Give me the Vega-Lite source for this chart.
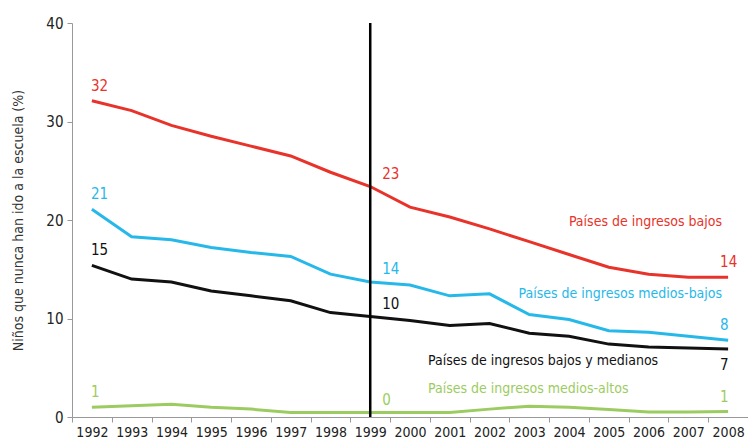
{
  "$schema": "https://vega.github.io/schema/vega-lite/v6.json",
  "width": 676,
  "height": 394,
  "autosize": {"type": "none"},
  "padding": {"left": 72, "top": 23, "right": 0, "bottom": 23},
  "background": "white",
  "config": {
    "view": {"stroke": null},
    "font": "DejaVu Sans Condensed",
    "text": {"font": "DejaVu Sans Condensed"},
    "axis": {"grid": false, "domainColor": "#999", "tickColor": "#999", "labelColor": "#222", "labelFont": "DejaVu Sans Condensed", "titleFont": "DejaVu Sans Condensed"}
  },
  "datasets": {
    "series": [
      {"year": 1992, "serie": "bajos", "value": 32.1},
      {"year": 1993, "serie": "bajos", "value": 31.1},
      {"year": 1994, "serie": "bajos", "value": 29.6},
      {"year": 1995, "serie": "bajos", "value": 28.5},
      {"year": 1996, "serie": "bajos", "value": 27.5},
      {"year": 1997, "serie": "bajos", "value": 26.5},
      {"year": 1998, "serie": "bajos", "value": 24.85},
      {"year": 1999, "serie": "bajos", "value": 23.4},
      {"year": 2000, "serie": "bajos", "value": 21.3},
      {"year": 2001, "serie": "bajos", "value": 20.3},
      {"year": 2002, "serie": "bajos", "value": 19.1},
      {"year": 2003, "serie": "bajos", "value": 17.8},
      {"year": 2004, "serie": "bajos", "value": 16.5},
      {"year": 2005, "serie": "bajos", "value": 15.2},
      {"year": 2006, "serie": "bajos", "value": 14.5},
      {"year": 2007, "serie": "bajos", "value": 14.2},
      {"year": 2008, "serie": "bajos", "value": 14.2},
      {"year": 1992, "serie": "medios-bajos", "value": 21.1},
      {"year": 1993, "serie": "medios-bajos", "value": 18.3},
      {"year": 1994, "serie": "medios-bajos", "value": 18.0},
      {"year": 1995, "serie": "medios-bajos", "value": 17.2},
      {"year": 1996, "serie": "medios-bajos", "value": 16.7},
      {"year": 1997, "serie": "medios-bajos", "value": 16.3},
      {"year": 1998, "serie": "medios-bajos", "value": 14.5},
      {"year": 1999, "serie": "medios-bajos", "value": 13.7},
      {"year": 2000, "serie": "medios-bajos", "value": 13.4},
      {"year": 2001, "serie": "medios-bajos", "value": 12.3},
      {"year": 2002, "serie": "medios-bajos", "value": 12.5},
      {"year": 2003, "serie": "medios-bajos", "value": 10.4},
      {"year": 2004, "serie": "medios-bajos", "value": 9.9},
      {"year": 2005, "serie": "medios-bajos", "value": 8.75},
      {"year": 2006, "serie": "medios-bajos", "value": 8.6},
      {"year": 2007, "serie": "medios-bajos", "value": 8.2},
      {"year": 2008, "serie": "medios-bajos", "value": 7.8},
      {"year": 1992, "serie": "bajos y medianos", "value": 15.4},
      {"year": 1993, "serie": "bajos y medianos", "value": 14.0},
      {"year": 1994, "serie": "bajos y medianos", "value": 13.7},
      {"year": 1995, "serie": "bajos y medianos", "value": 12.8},
      {"year": 1996, "serie": "bajos y medianos", "value": 12.3},
      {"year": 1997, "serie": "bajos y medianos", "value": 11.8},
      {"year": 1998, "serie": "bajos y medianos", "value": 10.6},
      {"year": 1999, "serie": "bajos y medianos", "value": 10.2},
      {"year": 2000, "serie": "bajos y medianos", "value": 9.8},
      {"year": 2001, "serie": "bajos y medianos", "value": 9.3},
      {"year": 2002, "serie": "bajos y medianos", "value": 9.5},
      {"year": 2003, "serie": "bajos y medianos", "value": 8.5},
      {"year": 2004, "serie": "bajos y medianos", "value": 8.2},
      {"year": 2005, "serie": "bajos y medianos", "value": 7.4},
      {"year": 2006, "serie": "bajos y medianos", "value": 7.1},
      {"year": 2007, "serie": "bajos y medianos", "value": 7.0},
      {"year": 2008, "serie": "bajos y medianos", "value": 6.9},
      {"year": 1992, "serie": "medios-altos", "value": 1.0},
      {"year": 1993, "serie": "medios-altos", "value": 1.15},
      {"year": 1994, "serie": "medios-altos", "value": 1.3},
      {"year": 1995, "serie": "medios-altos", "value": 1.0},
      {"year": 1996, "serie": "medios-altos", "value": 0.8},
      {"year": 1997, "serie": "medios-altos", "value": 0.45},
      {"year": 1998, "serie": "medios-altos", "value": 0.45},
      {"year": 1999, "serie": "medios-altos", "value": 0.45},
      {"year": 2000, "serie": "medios-altos", "value": 0.45},
      {"year": 2001, "serie": "medios-altos", "value": 0.45},
      {"year": 2002, "serie": "medios-altos", "value": 0.8},
      {"year": 2003, "serie": "medios-altos", "value": 1.1},
      {"year": 2004, "serie": "medios-altos", "value": 1.0},
      {"year": 2005, "serie": "medios-altos", "value": 0.75},
      {"year": 2006, "serie": "medios-altos", "value": 0.5},
      {"year": 2007, "serie": "medios-altos", "value": 0.5},
      {"year": 2008, "serie": "medios-altos", "value": 0.55}
    ],
    "names": [
      {"serie": "bajos", "name": "Países de ingresos bajos", "year": 2008, "value": 19.8, "side": "right"},
      {"serie": "medios-bajos", "name": "Países de ingresos medios-bajos", "year": 2008, "value": 12.5, "side": "right"},
      {"serie": "bajos y medianos", "name": "Países de ingresos bajos y medianos", "year": 2000, "value": 5.7, "side": "left"},
      {"serie": "medios-altos", "name": "Países de ingresos medios-altos", "year": 2000, "value": 2.8, "side": "left"}
    ],
    "divider": [{"year": 1999}]
  },
  "encoding": {
    "x": {
      "field": "year", "type": "ordinal", "bandPosition": 0.5,
      "scale": {"type": "band", "paddingInner": 0, "paddingOuter": 0, "domain": [1992,1993,1994,1995,1996,1997,1998,1999,2000,2001,2002,2003,2004,2005,2006,2007,2008]},
      "axis": {"title": null, "labelAngle": 0, "tickBand": "extent", "tickSize": 5, "labelPadding": 3, "labelFontSize": 14}
    },
    "y": {
      "field": "value", "type": "quantitative",
      "scale": {"domain": [0, 40], "nice": false},
      "axis": {"values": [0, 10, 20, 30, 40], "title": "Niños que nunca han ido a la escuela (%)", "titleFontSize": 14, "titleFontWeight": "normal", "titleColor": "#333", "titleX": -54, "titleY": 197, "titleAngle": 270, "titleBaseline": "middle", "titleAlign": "center", "tickSize": 5, "labelPadding": 4, "labelFontSize": 15}
    },
    "color": {
      "field": "serie", "type": "nominal", "legend": null,
      "scale": {"domain": ["bajos", "medios-bajos", "bajos y medianos", "medios-altos"], "range": ["#e8332a", "#27b8ea", "#111111", "#9ccc61"]}
    }
  },
  "layer": [
    {
      "data": {"name": "series"},
      "mark": {"type": "line", "strokeWidth": 3, "interpolate": "linear"}
    },
    {
      "data": {"name": "divider"},
      "mark": {"type": "rule", "color": "black", "strokeWidth": 2.5},
      "encoding": {"y": null, "color": null}
    },
    {
      "data": {"name": "series"},
      "transform": [{"filter": "datum.year === 1992"}],
      "mark": {"type": "text", "align": "left", "baseline": "middle", "dx": -1, "dy": -15, "fontSize": 15},
      "encoding": {"text": {"field": "value", "type": "quantitative", "format": ".0f"}}
    },
    {
      "data": {"name": "series"},
      "transform": [{"filter": "datum.year === 1999"}],
      "mark": {"type": "text", "align": "left", "baseline": "middle", "dx": 12, "dy": -13, "fontSize": 15},
      "encoding": {"text": {"field": "value", "type": "quantitative", "format": ".0f"}}
    },
    {
      "data": {"name": "series"},
      "transform": [{"filter": "datum.year === 2008 && datum.serie !== 'bajos y medianos'"}],
      "mark": {"type": "text", "align": "left", "baseline": "middle", "dx": -8, "dy": -15, "fontSize": 15},
      "encoding": {"text": {"field": "value", "type": "quantitative", "format": ".0f"}}
    },
    {
      "data": {"name": "series"},
      "transform": [{"filter": "datum.year === 2008 && datum.serie === 'bajos y medianos'"}],
      "mark": {"type": "text", "align": "left", "baseline": "middle", "dx": -8, "dy": 16, "fontSize": 15},
      "encoding": {"text": {"field": "value", "type": "quantitative", "format": ".0f"}}
    },
    {
      "data": {"name": "names"},
      "transform": [{"filter": "datum.side === 'right'"}],
      "mark": {"type": "text", "align": "right", "baseline": "middle", "dx": -6, "fontSize": 14},
      "encoding": {"text": {"field": "name"}}
    },
    {
      "data": {"name": "names"},
      "transform": [{"filter": "datum.side === 'left'"}],
      "mark": {"type": "text", "align": "left", "baseline": "middle", "dx": 18, "fontSize": 14},
      "encoding": {"text": {"field": "name"}}
    }
  ]
}
